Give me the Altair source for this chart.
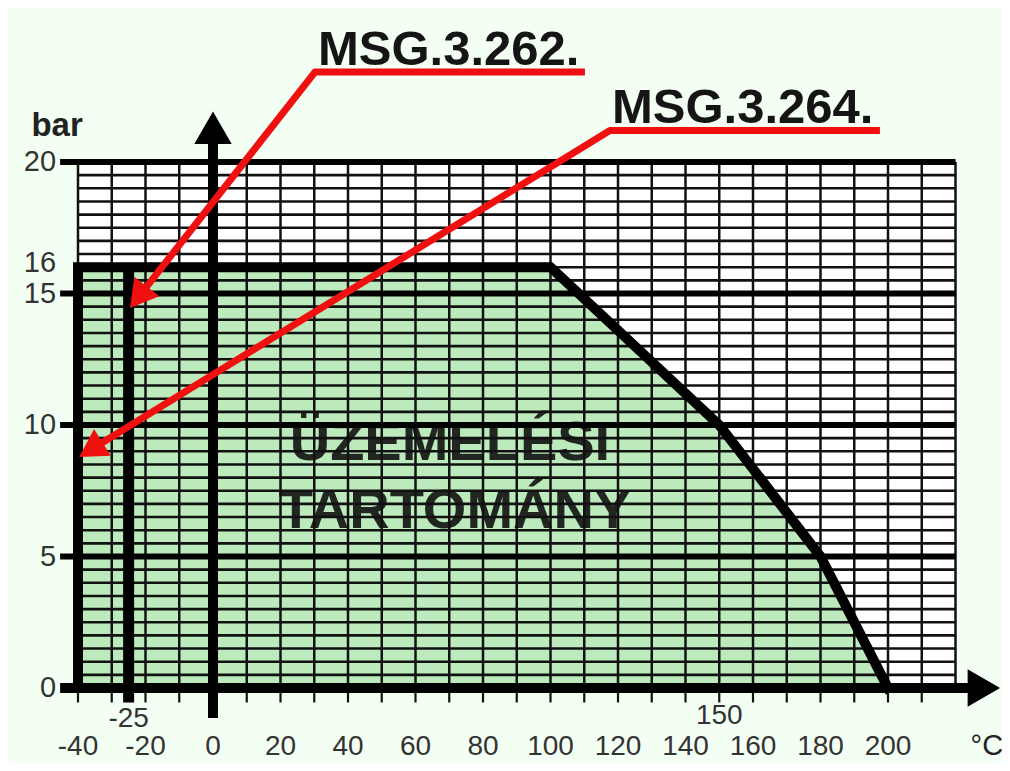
import altair as alt
import pandas as pd

# ---------------- data ----------------
# operating envelope boundary: temperature (°C) vs pressure (bar)
env_temp = [-40, -40, 100, 150, 180, 200]
env_pres = [0, 16, 16, 10, 5, 0]
# upper edge of the green operating range
fill_temp = [-40, 100, 150, 180, 200]
fill_pres = [16, 16, 10, 5, 0]
# low-temperature limit of MSG.3.262.
limit_262 = -25
limit_262_pres = 16

y_labels = [0, 5, 10, 15, 16, 20]
x_labels = [-40, -20, 0, 20, 40, 60, 80, 100, 120, 140, 160, 180, 200]
extra_x_labels = [-25, 150]
major_y = [5, 10, 15, 20]
minor_y = [v * 0.5 for v in range(41)]
minor_x = list(range(-40, 221, 10))
tick_x = list(range(-40, 211, 10))

products = ["MSG.3.262.", "MSG.3.264."]
region_lines = ["ÜZEMELÉSI", "TARTOMÁNY"]
x_unit = "°C"
y_unit = "bar"

# ---------------- layout (data units of the scales) ----------------
W, H = 994, 755
PX_PER_X = 3.375
PX_PER_Y = 26.3
X0_PX, Y0_PX = 205, 680
xdom = [-X0_PX / PX_PER_X, (W - X0_PX) / PX_PER_X]
ydom = [(Y0_PX - H) / PX_PER_Y, Y0_PX / PX_PER_Y]
xs = alt.Scale(domain=xdom, nice=False, zero=False)
ys = alt.Scale(domain=ydom, nice=False, zero=False)


def X(f):
    return alt.X(f, type="quantitative", scale=xs, axis=None)


def Y(f):
    return alt.Y(f, type="quantitative", scale=ys, axis=None)


def X2(f):
    return alt.X2(f)


def Y2(f):
    return alt.Y2(f)


FONT = "Liberation Sans"
GRID_LEFT, GRID_RIGHT, GRID_TOP = -40, 220, 20
STUB_LEFT = -45.3

# white paper under the grid
paper = alt.Chart(pd.DataFrame({"x": [GRID_LEFT], "x2": [GRID_RIGHT], "y": [0], "y2": [GRID_TOP]})).mark_rect(
    color="white"
).encode(x=X("x"), x2=X2("x2"), y=Y("y"), y2=Y2("y2"))

# green operating range
green = alt.Chart(pd.DataFrame({"t": fill_temp, "p": fill_pres, "b": [0] * len(fill_temp)})).mark_area(
    color="#bdeabd", opacity=1
).encode(x=X("t"), y=Y("p"), y2=Y2("b"))

# thin grid
hgrid = alt.Chart(pd.DataFrame({"y": minor_y, "x": GRID_LEFT, "x2": GRID_RIGHT})).mark_rule(
    color="#111", strokeWidth=2.6
).encode(y=Y("y"), x=X("x"), x2=X2("x2"))
vgrid = alt.Chart(pd.DataFrame({"x": minor_x, "y": 0, "y2": GRID_TOP})).mark_rule(
    color="#111", strokeWidth=2.5
).encode(x=X("x"), y=Y("y"), y2=Y2("y2"))

# thick major lines
major = alt.Chart(pd.DataFrame({"y": major_y, "x": STUB_LEFT, "x2": GRID_RIGHT})).mark_rule(
    color="#000", strokeWidth=6
).encode(y=Y("y"), x=X("x"), x2=X2("x2"))

# ticks below x axis
ticks = alt.Chart(pd.DataFrame({"x": tick_x, "y": 0, "y2": -0.55})).mark_rule(
    color="#111", strokeWidth=2.2
).encode(x=X("x"), y=Y("y"), y2=Y2("y2"))

# envelope boundary
boundary = alt.Chart(pd.DataFrame({"t": env_temp, "p": env_pres, "o": list(range(len(env_temp)))})).mark_line(
    color="#000", strokeWidth=10, strokeJoin="miter", strokeCap="square"
).encode(x=X("t"), y=Y("p"), order="o:Q")

# -25 limit line
lim = alt.Chart(pd.DataFrame({"x": [limit_262], "y": [-0.55], "y2": [limit_262_pres]})).mark_rule(
    color="#000", strokeWidth=11
).encode(x=X("x"), y=Y("y"), y2=Y2("y2"))

# axes
yaxis = alt.Chart(pd.DataFrame({"x": [0], "y": [-1.14], "y2": [20.9]})).mark_rule(
    color="#000", strokeWidth=10
).encode(x=X("x"), y=Y("y"), y2=Y2("y2"))
xaxis = alt.Chart(pd.DataFrame({"y": [0], "x": [STUB_LEFT], "x2": [224.5]})).mark_rule(
    color="#000", strokeWidth=10
).encode(y=Y("y"), x=X("x"), x2=X2("x2"))
yhead = alt.Chart(pd.DataFrame({"x": [0], "y": [21.3]})).mark_point(
    shape="triangle-up", filled=True, size=1400, color="#000", opacity=1
).encode(x=X("x"), y=Y("y"))
xhead = alt.Chart(pd.DataFrame({"x": [228.4], "y": [0]})).mark_point(
    shape="triangle-right", filled=True, size=1400, color="#000", opacity=1
).encode(x=X("x"), y=Y("y"))

# red leader arrows
RED = "#f01010"
arrows = pd.DataFrame({
    "g": ["a", "a", "a", "b", "b", "b"],
    "o": [0, 1, 2, 0, 1, 2],
    "x": [110.2, 30.2, -22.1, 197.6, 117.6, -36.2],
    "y": [23.42, 23.42, 14.86, 21.2, 21.2, 9.06],
})
arrow_lines = alt.Chart(arrows).mark_line(color=RED, strokeWidth=7, strokeJoin="round").encode(
    x=X("x"), y=Y("y"), detail="g:N", order="o:Q"
)
head_a = alt.Chart(pd.DataFrame({"x": [-22.1], "y": [14.86]})).mark_point(
    shape="triangle-up", filled=True, size=1000, color=RED, opacity=1, angle=218
).encode(x=X("x"), y=Y("y"))
head_b = alt.Chart(pd.DataFrame({"x": [-36.2], "y": [9.06]})).mark_point(
    shape="triangle-up", filled=True, size=1000, color=RED, opacity=1, angle=238
).encode(x=X("x"), y=Y("y"))

prod_text = alt.Chart(pd.DataFrame({"t": products, "x": [31.1, 118.2], "y": [23.69, 21.48]})).mark_text(
    font=FONT, fontSize=49, fontWeight="bold", align="left", baseline="alphabetic", color="#151515"
).encode(x=X("x"), y=Y("y"), text="t:N")

# region text
region = alt.Chart(pd.DataFrame({"t": region_lines, "x": [70.2, 71.7], "y": [8.67, 6.08]})).mark_text(
    font=FONT, fontSize=56, fontWeight="bold", align="center", baseline="alphabetic", color="#111", opacity=0.9
).encode(x=X("x"), y=Y("y"), text="t:N")

# axis labels (plain hyphen minus as in the reference)
ylab_df = pd.DataFrame({"v": y_labels, "x": -46.5})
ylab_df["t"] = [str(v) for v in y_labels]
ylab_df["yp"] = [v + (0.15 if v == 16 else 0) for v in y_labels]
ylab = alt.Chart(ylab_df).mark_text(
    font=FONT, fontSize=29, align="right", baseline="middle", color="#333"
).encode(x=X("x"), y=Y("yp"), text="t:N")

xlab_df = pd.DataFrame({"v": x_labels, "y": -2.55})
xlab_df["t"] = [str(v) for v in x_labels]
xlab = alt.Chart(xlab_df).mark_text(
    font=FONT, fontSize=28, align="center", baseline="alphabetic", color="#333"
).encode(x=X("v"), y=Y("y"), text="t:N")

xlab2_df = pd.DataFrame({"v": extra_x_labels, "y": [-1.5, -1.35]})
xlab2_df["t"] = [str(v) for v in extra_x_labels]
xlab2 = alt.Chart(xlab2_df).mark_text(
    font=FONT, fontSize=28, align="center", baseline="alphabetic", color="#333"
).encode(x=X("v"), y=Y("y"), text="t:N")

unit_x = alt.Chart(pd.DataFrame({"t": [x_unit], "x": [229.3], "y": [-2.55]})).mark_text(
    font=FONT, fontSize=29, align="center", baseline="alphabetic", color="#222"
).encode(x=X("x"), y=Y("y"), text="t:N")
unit_y = alt.Chart(pd.DataFrame({"t": [y_unit], "x": [-46.2], "y": [21.37]})).mark_text(
    font=FONT, fontSize=33, fontWeight="bold", align="center", baseline="middle", color="#222"
).encode(x=X("x"), y=Y("y"), text="t:N")

chart = alt.layer(
    paper, green, hgrid, vgrid, region, major, ticks, boundary, lim, yaxis, xaxis, yhead, xhead,
    arrow_lines, head_a, head_b, prod_text, ylab, xlab, xlab2, unit_x, unit_y,
).properties(
    width=W, height=H, autosize=alt.AutoSizeParams(type="none"), padding=0, background="#f4fff4"
).configure_view(stroke=None)

chart.save("out.html", embed_options={"renderer": "svg", "actions": False})
